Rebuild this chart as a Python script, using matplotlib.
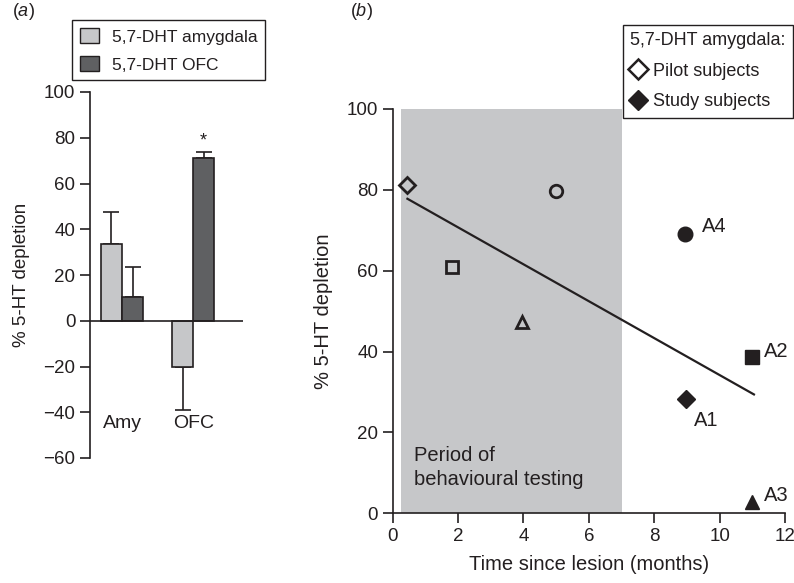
import numpy as np
import matplotlib.pyplot as plt
from matplotlib.patches import Patch
from matplotlib.lines import Line2D

plt.rcParams.update({
    "font.family": ["Liberation Sans", "DejaVu Sans"],
    "font.size": 13,
    "mathtext.fontset": "custom",
    "mathtext.rm": "Liberation Sans",
    "mathtext.it": "Liberation Sans:italic",
    "text.color": "#231f20",
    "axes.edgecolor": "#231f20",
    "xtick.color": "#231f20",
    "ytick.color": "#231f20",
    "axes.labelcolor": "#231f20",
})

# panel a data
regions = ["Amy", "OFC"]
amy_lesion = [33.7, -20.4]
amy_err = [13.8, 18.5]
ofc_lesion = [10.6, 71.1]
ofc_err = [13.0, 2.6]

# panel b data
pilot_x = [0.45, 1.82, 3.97, 4.98]
pilot_y = [81.1, 60.9, 47.2, 79.7]
pilot_mk = ["D", "s", "^", "o"]
study_x = [8.98, 11.0, 11.0, 8.95]
study_y = [28.3, 38.6, 2.8, 69.2]
study_mk = ["D", "s", "^", "o"]
study_lbl = ["A1", "A2", "A3", "A4"]
lbl_x = [9.2, 11.35, 11.35, 9.45]
lbl_y = [23.0, 40.0, 4.5, 71.0]
fit_x = [0.45, 11.05]
fit_y = [77.8, 29.4]
test_start, test_end = 0.25, 7.0

light = "#c6c7c9"
dark = "#5f6062"
ink = "#231f20"

fig = plt.figure(figsize=(7.94, 5.83), dpi=100)

# ---- (a) ----
ax1 = fig.add_axes([90/794, 1-458/583, 153/794, 366/583])
xpos = np.arange(len(regions))
w = 0.296
for i in range(len(regions)):
    for off, vals, errs, col in [(-w/2, amy_lesion, amy_err, light), (w/2, ofc_lesion, ofc_err, dark)]:
        v = vals[i]
        e = errs[i]
        yerr = [[0], [e]] if v >= 0 else [[e], [0]]
        ax1.bar(xpos[i] + off, v, w, color=col, edgecolor=ink, linewidth=1.2, zorder=2)
        ax1.errorbar(xpos[i] + off, v, yerr=yerr, fmt="none", ecolor=ink,
                     elinewidth=1.2, capsize=6, capthick=1.2, zorder=1)
ax1.text(xpos[1] + w/2, ofc_lesion[1] + ofc_err[1] + 1.0, "*", ha="center", va="bottom", fontsize=13)
ax1.axhline(0, color=ink, lw=1.2, zorder=3)
ax1.set_xlim(-0.45, 1.70)
ax1.set_ylim(-60, 100)
ax1.set_yticks(np.arange(-60, 101, 20))
ax1.set_yticklabels([str(t).replace("-", "\u2212") for t in range(-60, 101, 20)])
ax1.set_xticks([])
for s in ["top", "right", "bottom"]:
    ax1.spines[s].set_visible(False)
ax1.spines["left"].set_linewidth(1.2)
ax1.tick_params(axis="y", direction="out", length=7, width=1.2, labelsize=13.5)
for i, r in enumerate(regions):
    ax1.text(xpos[i], -45, r, ha="center", va="center", fontsize=14)
ax1.set_ylabel("% 5-HT depletion", fontsize=13.5, labelpad=10)

leg1 = fig.legend(handles=[Patch(facecolor=light, edgecolor=ink, label="5,7-DHT amygdala"),
                           Patch(facecolor=dark, edgecolor=ink, label="5,7-DHT OFC")],
                  loc="upper left", bbox_to_anchor=(72/794, 1-20/583), fancybox=False,
                  edgecolor=ink, framealpha=1, fontsize=12.5, borderpad=0.45, borderaxespad=0,
                  handlelength=1.1, handleheight=1.0, handletextpad=0.75, labelspacing=0.65)
leg1.get_frame().set_linewidth(1.0)

# ---- (b) ----
ax2 = fig.add_axes([392.7/794, 1-513.3/583, 392.3/794, 404.3/583])
ax2.axvspan(test_start, test_end, ymin=0, ymax=1, color=light, lw=0, zorder=0)
ax2.plot(fit_x, fit_y, color=ink, lw=1.6, zorder=2)
for x, y, m in zip(pilot_x, pilot_y, pilot_mk):
    ax2.plot(x, y, marker=m, ms=9 if m != "D" else 8.5, mfc="none", mec=ink, mew=2, ls="none", zorder=3)
for x, y, m in zip(study_x, study_y, study_mk):
    ax2.plot(x, y, marker=m, ms=10.5 if m != "D" else 9.5, mfc=ink, mec=ink, ls="none", zorder=3)
for x, y, t in zip(lbl_x, lbl_y, study_lbl):
    ax2.text(x, y, t, ha="left", va="center", fontsize=14.5)
ax2.text(0.65, 11.3, "Period of\nbehavioural testing", ha="left", va="center", fontsize=14.5,
         linespacing=1.35)
ax2.set_xlim(0, 12)
ax2.set_ylim(0, 100)
ax2.set_xticks(np.arange(0, 13, 2))
ax2.set_yticks(np.arange(0, 101, 20))
for s in ["top", "right"]:
    ax2.spines[s].set_visible(False)
for s in ["left", "bottom"]:
    ax2.spines[s].set_linewidth(1.2)
ax2.tick_params(direction="out", length=7, width=1.2, labelsize=13.5)
ax2.set_xlabel("Time since lesion (months)", fontsize=14.5, labelpad=7)
ax2.set_ylabel("% 5-HT depletion", fontsize=14.5, labelpad=10)

leg2 = fig.legend(handles=[Line2D([], [], marker="D", ms=10, mfc="none", mec=ink, mew=1.8, ls="none", label="Pilot subjects"),
                           Line2D([], [], marker="D", ms=10, mfc=ink, mec=ink, ls="none", label="Study subjects")],
                  title="5,7-DHT amygdala:", alignment="left",
                  loc="upper right", bbox_to_anchor=(793/794, 1-25/583), fancybox=False,
                  edgecolor=ink, framealpha=1, fontsize=13, title_fontsize=13, borderpad=0.4,
                  handlelength=0.8, handletextpad=0.45, labelspacing=0.75, borderaxespad=0)
leg2.get_frame().set_linewidth(1.0)

fig.text(12/794, 1-12/583, r"($\mathit{a}$)", ha="left", va="center", fontsize=13)
fig.text(350/794, 1-12/583, r"($\mathit{b}$)", ha="left", va="center", fontsize=13)

fig.savefig("out.png", dpi=100)
